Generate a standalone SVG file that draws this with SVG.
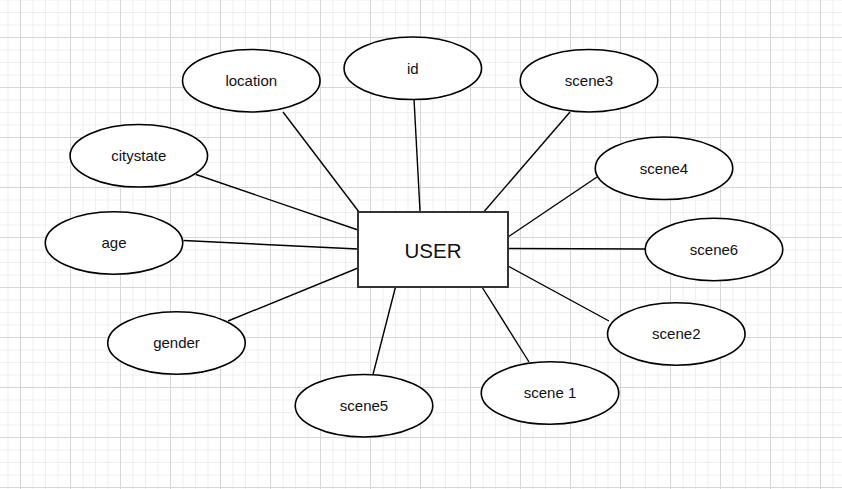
<svg xmlns="http://www.w3.org/2000/svg" width="842" height="489" viewBox="0 0 842 489">
  <defs>
    <pattern id="grid" patternUnits="userSpaceOnUse" x="20" y="37" width="50" height="50">
      <rect x="0" y="0" width="50" height="50" fill="#ffffff"/>
      <rect x="12.5" y="0" width="1" height="50" fill="#efefef"/>
      <rect x="25" y="0" width="1" height="50" fill="#efefef"/>
      <rect x="37.5" y="0" width="1" height="50" fill="#efefef"/>
      <rect x="0" y="12.5" width="50" height="1" fill="#efefef"/>
      <rect x="0" y="25" width="50" height="1" fill="#efefef"/>
      <rect x="0" y="37.5" width="50" height="1" fill="#efefef"/>
      <rect x="0" y="0" width="1" height="50" fill="#d6d6d6"/>
      <rect x="0" y="0" width="50" height="1" fill="#d6d6d6"/>
    </pattern>
  </defs>
  <style>
    .attr { fill: #ffffff; stroke: #000000; stroke-width: 1.6; }
    .ent { fill: #ffffff; stroke: #333333; stroke-width: 2; }
    .lbl { font-family: "Liberation Sans", Arial, sans-serif; font-size: 15px; fill: #111111; text-anchor: middle; }
    .title { font-family: "Liberation Sans", Arial, sans-serif; font-size: 20.5px; fill: #111111; text-anchor: middle; }
    .conn line { stroke: #000000; stroke-width: 1.4; fill: none; }
  </style>
  <rect x="0" y="0" width="842" height="489" fill="url(#grid)"/>

  <g id="connectors" class="conn">
    <line x1="283" y1="112" x2="359" y2="212"/>
    <line x1="414" y1="99" x2="420" y2="211"/>
    <line x1="570" y1="112" x2="482" y2="214"/>
    <line x1="597" y1="177" x2="508" y2="237"/>
    <line x1="645.5" y1="249" x2="508" y2="248.5"/>
    <line x1="609" y1="321" x2="508" y2="266"/>
    <line x1="529" y1="362" x2="482" y2="287"/>
    <line x1="373" y1="374.5" x2="395.5" y2="287"/>
    <line x1="228" y1="321" x2="358" y2="268"/>
    <line x1="183.5" y1="240.5" x2="358" y2="249"/>
    <line x1="196" y1="174.5" x2="358" y2="230"/>
  </g>

  <g id="user">
    <rect class="ent" x="358" y="212" width="150" height="75"/>
    <text class="title" x="433" y="257.5">USER</text>
  </g>
  <g id="location">
    <ellipse class="attr" cx="251.3" cy="80.7" rx="68.75" ry="31.25"/>
    <text class="lbl" x="251.3" y="86">location</text>
  </g>
  <g id="id">
    <ellipse class="attr" cx="412.8" cy="68.3" rx="68.75" ry="31.25"/>
    <text class="lbl" x="412.8" y="73.6">id</text>
  </g>
  <g id="scene3">
    <ellipse class="attr" cx="589" cy="80.7" rx="68.75" ry="31.25"/>
    <text class="lbl" x="589" y="86">scene3</text>
  </g>
  <g id="citystate">
    <ellipse class="attr" cx="138.8" cy="155.8" rx="68.75" ry="31.25"/>
    <text class="lbl" x="138.8" y="161.1">citystate</text>
  </g>
  <g id="scene4">
    <ellipse class="attr" cx="664" cy="168.3" rx="68.75" ry="31.25"/>
    <text class="lbl" x="664" y="173.6">scene4</text>
  </g>
  <g id="age">
    <ellipse class="attr" cx="114" cy="243" rx="68.75" ry="31.25"/>
    <text class="lbl" x="114" y="248.3">age</text>
  </g>
  <g id="scene6">
    <ellipse class="attr" cx="714" cy="249.5" rx="68.75" ry="31.25"/>
    <text class="lbl" x="714" y="254.8">scene6</text>
  </g>
  <g id="gender">
    <ellipse class="attr" cx="176.5" cy="343" rx="68.75" ry="31.25"/>
    <text class="lbl" x="176.5" y="348.3">gender</text>
  </g>
  <g id="scene2">
    <ellipse class="attr" cx="676.3" cy="334" rx="68.75" ry="31.25"/>
    <text class="lbl" x="676.3" y="339.3">scene2</text>
  </g>
  <g id="scene5">
    <ellipse class="attr" cx="364" cy="405.7" rx="68.75" ry="31.25"/>
    <text class="lbl" x="364" y="411">scene5</text>
  </g>
  <g id="scene1">
    <ellipse class="attr" cx="550" cy="393" rx="68.75" ry="31.25"/>
    <text class="lbl" x="550" y="398.3">scene 1</text>
  </g>
</svg>
